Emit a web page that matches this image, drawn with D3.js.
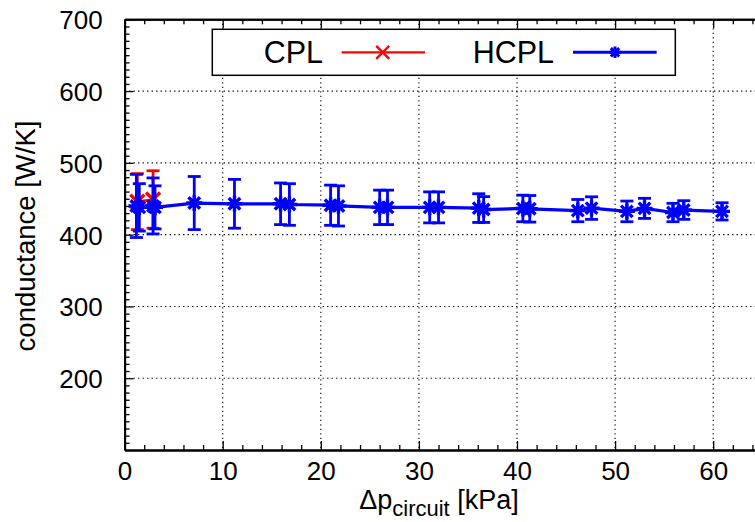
<!DOCTYPE html>
<html>
<head>
<meta charset="utf-8">
<script src="https://cdn.jsdelivr.net/npm/d3@7/dist/d3.min.js"></script>
<style>
html,body{margin:0;padding:0;background:#fff;overflow:hidden;}
svg{display:block;font-family:"Liberation Sans",Arial,sans-serif;}
</style>
</head>
<body>
<svg id="chart" width="755" height="522"></svg>
<script>
// ---- data ----
const cplX   = [1.3, 2.9];
const cplY   = [446, 449];
const cplErr = [39, 40];

const hcplX   = [1.2, 1.5, 2.9, 3.1, 7.1, 11.2, 15.9, 16.8, 21.0, 21.8, 26.0, 26.8, 31.1, 32.0, 36.1, 36.6, 40.6, 41.3, 46.2, 47.6, 51.2, 53.0, 55.9, 57.0, 60.9];
const hcplY   = [440, 438, 440, 438, 444, 443, 443, 442, 441, 440, 438, 438, 438, 438, 437, 435, 436.5, 436, 433.5, 437, 432.4, 436.6, 430.8, 434.3, 432.4];
const hcplErr = [44, 33, 39, 30, 37, 34, 29, 29, 28, 28, 24, 24, 21.6, 21.6, 20, 18, 18.5, 18.5, 15.5, 15.7, 14.4, 14, 12.8, 13, 12];

const xTicks = [0, 10, 20, 30, 40, 50, 60];
const yTicks = [200, 300, 400, 500, 600, 700];
const seriesNames = ["CPL", "HCPL"];
const seriesColors = ["#ff0000", "#0000ff"];

// ---- layout ----
const svg = d3.select("#chart");
const L = 124.6, T = 19.3, B = 450;
const x = d3.scaleLinear().domain([0, 65]).range([L, L + 6.5 * 98.1]);
const y = d3.scaleLinear().domain([100, 700]).range([B, T]);
const R = x(65);

// grid
const grid = svg.append("g").attr("stroke", "#000").attr("stroke-width", 1.1).attr("stroke-dasharray", "1.3,3.2");
xTicks.filter(v => v > 0).forEach(v => {
  grid.append("line").attr("x1", x(v)).attr("x2", x(v)).attr("y1", T).attr("y2", B);
});
yTicks.filter(v => v < 700).forEach(v => {
  grid.append("line").attr("x1", L).attr("x2", R).attr("y1", y(v)).attr("y2", y(v));
});

// axes with inward ticks
const minorX = d3.range(0, 65.01, 2).filter(v => v % 10 !== 0);
const minorY = d3.range(100, 700.01, 10).filter(v => v % 100 !== 0);

const axB = svg.append("g").attr("transform", `translate(0,${B})`)
  .call(d3.axisBottom(x).tickValues(xTicks).tickSizeInner(-9).tickSizeOuter(0).tickPadding(14).tickFormat(d3.format("d")));
const axBm = svg.append("g").attr("transform", `translate(0,${B})`)
  .call(d3.axisBottom(x).tickValues(minorX).tickSizeInner(-5).tickSizeOuter(0).tickFormat(""));
const axT = svg.append("g").attr("transform", `translate(0,${T})`)
  .call(d3.axisTop(x).tickValues(xTicks).tickSizeInner(-9).tickSizeOuter(0).tickFormat(""));
const axTm = svg.append("g").attr("transform", `translate(0,${T})`)
  .call(d3.axisTop(x).tickValues(minorX).tickSizeInner(-5).tickSizeOuter(0).tickFormat(""));
const axL = svg.append("g").attr("transform", `translate(${L},0)`)
  .call(d3.axisLeft(y).tickValues(yTicks).tickSizeInner(-9).tickSizeOuter(0).tickPadding(22).tickFormat(d3.format("d")));
const axLm = svg.append("g").attr("transform", `translate(${L},0)`)
  .call(d3.axisLeft(y).tickValues(minorY).tickSizeInner(-5).tickSizeOuter(0).tickFormat(""));

[axB, axBm, axT, axTm, axL, axLm].forEach(g => {
  g.select(".domain").attr("stroke", "#000").attr("stroke-width", 2);
  g.selectAll(".tick line").attr("stroke", "#000").attr("stroke-width", 1.3);
  g.selectAll("text").attr("fill", "#000").attr("font-size", 26).attr("font-family", "Liberation Sans, Arial, sans-serif");
});
axB.selectAll("text").attr("dy", "0.71em").attr("y", 12);
axL.selectAll("text").attr("dy", "0.36em");

// axis labels
svg.append("text")
  .attr("transform", `translate(35,236) rotate(-90)`)
  .attr("text-anchor", "middle").attr("font-size", 27.5).attr("fill", "#000")
  .text("conductance [W/K]");

const xl = svg.append("text").attr("x", 439).attr("y", 509)
  .attr("text-anchor", "middle").attr("font-size", 27).attr("fill", "#000");
xl.append("tspan").text("Δp");
xl.append("tspan").attr("font-size", 22).attr("dy", 7).text("circuit");
xl.append("tspan").attr("dy", -7).text(" [kPa]");

// ---- marks ----
const plot = svg.append("g");
const line = d3.line().x(d => x(d[0])).y(d => y(d[1]));

function starPath(cx, cy, r) {
  const d = r * 0.72;
  return `M${cx - r},${cy}L${cx + r},${cy}M${cx},${cy - r}L${cx},${cy + r}` +
         `M${cx - d},${cy - d}L${cx + d},${cy + d}M${cx - d},${cy + d}L${cx + d},${cy - d}`;
}
function crossPath(cx, cy, r) {
  return `M${cx - r},${cy - r}L${cx + r},${cy + r}M${cx - r},${cy + r}L${cx + r},${cy - r}`;
}

function drawSeries(xs, ys, es, color, lw, marker) {
  const g = plot.append("g").attr("stroke", color).attr("fill", "none");
  const pts = xs.map((v, i) => [v, ys[i], es[i]]);
  g.append("path").datum(pts).attr("d", line).attr("stroke-width", lw).attr("stroke-linejoin", "round");
  const eb = g.selectAll(".eb").data(pts).enter().append("g").attr("stroke-width", 2.8);
  eb.append("line").attr("x1", d => x(d[0])).attr("x2", d => x(d[0]))
    .attr("y1", d => y(d[1] + d[2])).attr("y2", d => y(d[1] - d[2]));
  eb.append("line").attr("x1", d => x(d[0]) - 6.5).attr("x2", d => x(d[0]) + 6.5)
    .attr("y1", d => y(d[1] + d[2])).attr("y2", d => y(d[1] + d[2]));
  eb.append("line").attr("x1", d => x(d[0]) - 6.5).attr("x2", d => x(d[0]) + 6.5)
    .attr("y1", d => y(d[1] - d[2])).attr("y2", d => y(d[1] - d[2]));
  g.selectAll(".mk").data(pts).enter().append("path")
    .attr("stroke-width", 3.4)
    .attr("d", d => marker === "star" ? starPath(x(d[0]), y(d[1]), 8) : crossPath(x(d[0]), y(d[1]), 7));
}
drawSeries(cplX, cplY, cplErr, seriesColors[0], 2.5, "cross");
drawSeries(hcplX, hcplY, hcplErr, seriesColors[1], 3.2, "star");

// ---- legend ----
const lg = svg.append("g");
lg.append("rect").attr("x", 212.3).attr("y", 29.3).attr("width", 463).attr("height", 46)
  .attr("fill", "#fff").attr("stroke", "#000").attr("stroke-width", 1.5);
const legendItems = [
  {name: seriesNames[0], color: seriesColors[0], tx: 323, l1: 341.7, l2: 425, m: 382.7, marker: "cross", lw: 2.2},
  {name: seriesNames[1], color: seriesColors[1], tx: 554, l1: 573, l2: 656.7, m: 615, marker: "star", lw: 3}
];
legendItems.forEach(it => {
  lg.append("text").attr("x", it.tx).attr("y", 63).attr("text-anchor", "end")
    .attr("font-size", 30.5).attr("fill", "#000").text(it.name);
  lg.append("line").attr("x1", it.l1).attr("x2", it.l2).attr("y1", 52.3).attr("y2", 52.3)
    .attr("stroke", it.color).attr("stroke-width", it.lw);
  lg.append("path").attr("stroke", it.color).attr("stroke-width", it.marker === "star" ? 3 : 2.4).attr("fill", "none")
    .attr("d", it.marker === "star" ? starPath(it.m, 52.3, 5.8) : crossPath(it.m, 52.3, 6.5));
});
</script>
</body>
</html>
